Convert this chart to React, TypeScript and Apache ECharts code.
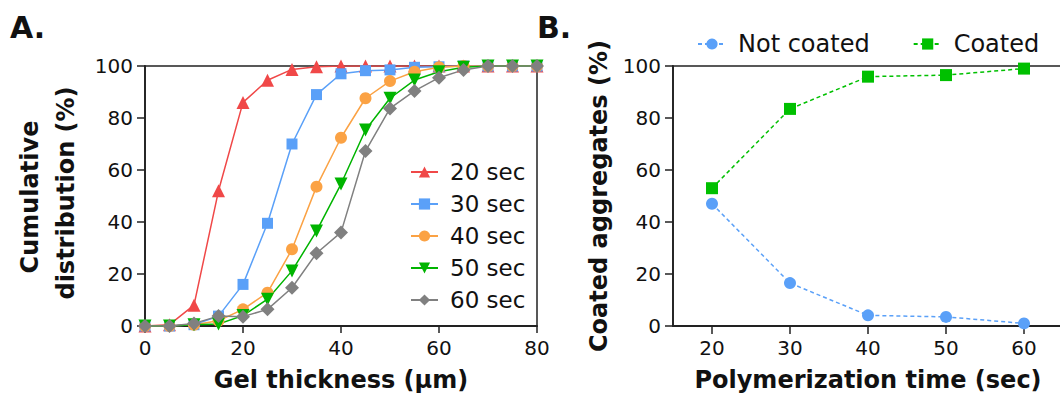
import React, { useEffect, useRef } from "react";
import * as echarts from "echarts";

const FONT = "DejaVu Sans";

// Panel A
const thickness = [0, 5, 10, 15, 20, 25, 30, 35, 40, 45, 50, 55, 60, 65, 70, 75, 80];
const sec20 = [0, 0.5, 8, 52, 86, 94.5, 98.7, 99.7, 100, 100, 100, 100, 100, 100, 100, 100, 100];
const sec30 = [0, 0, 0.5, 3.8, 16, 39.5, 70, 89, 97, 98.2, 98.5, 99.5, 99.7, 100, 100, 100, 100];
const sec40 = [0, 0, 0.5, 2, 6.4, 12.8, 29.5, 53.6, 72.4, 87.6, 94.2, 97.8, 99.5, 100, 100, 100, 100];
const sec50 = [0, 0, 0.5, 0.8, 4, 10.3, 21.2, 36.5, 54.6, 75.4, 87.6, 94.6, 97.8, 99.5, 100, 100, 100];
const sec60 = [0, 0, 1, 3.8, 3.6, 6.4, 14.7, 28, 36, 67.3, 83.7, 90.4, 95.5, 98.5, 100, 100, 100];
const seriesNamesA = ["20 sec", "30 sec", "40 sec", "50 sec", "60 sec"];

// Panel B
const times = [20, 30, 40, 50, 60];
const notCoated = [47, 16.5, 4.1, 3.5, 1.0];
const coated = [53, 83.5, 95.9, 96.5, 99];
const seriesNamesB = ["Not coated", "Coated"];

const pairs = (xs: number[], ys: number[]) => xs.map((x, i) => [x, ys[i]]);

export default function App() {
  const ref = useRef<HTMLDivElement>(null);
  useEffect(() => {
    const chart = echarts.init(ref.current!, null, { renderer: "svg" });
    const axisColor = "#222";
    const labelStyle = { fontFamily: FONT, fontSize: 20, color: "#111" };
    const nameStyle = { fontFamily: FONT, fontSize: 24, fontWeight: "bold" as const, color: "#111" };
    const colorsA = ["#f04848", "#5aa0f8", "#fba244", "#00b400", "#808080"];
    const symbolsA = ["triangle", "rect", "circle", "triangle", "diamond"];
    const sizesA = [13, 11, 12, 13, 14];
    const rotA = [0, 0, 0, 180, 0];
    const dataA = [sec20, sec30, sec40, sec50, sec60];

    const seriesA = dataA.map((d, i) => ({
      name: seriesNamesA[i],
      type: "line",
      xAxisIndex: 0,
      yAxisIndex: 0,
      data: pairs(thickness, d),
      symbol: symbolsA[i],
      symbolSize: sizesA[i],
      symbolRotate: rotA[i],
      showAllSymbol: true,
      lineStyle: { color: colorsA[i], width: 1.5 },
      itemStyle: { color: colorsA[i] },
      emphasis: { disabled: true },
    }));

    const seriesB = [
      {
        name: seriesNamesB[0],
        type: "line",
        xAxisIndex: 1,
        yAxisIndex: 1,
        data: pairs(times, notCoated),
        symbol: "circle",
        symbolSize: 12,
        lineStyle: { color: "#5aa0f8", width: 1.5, type: [4, 3] },
        itemStyle: { color: "#5aa0f8" },
      },
      {
        name: seriesNamesB[1],
        type: "line",
        xAxisIndex: 1,
        yAxisIndex: 1,
        data: pairs(times, coated),
        symbol: "rect",
        symbolSize: 12,
        lineStyle: { color: "#00c000", width: 1.5, type: [4, 3] },
        itemStyle: { color: "#00c000" },
      },
    ];

    const yAxisBase = {
      type: "value",
      min: 0,
      max: 100,
      interval: 20,
      axisLine: { show: true, lineStyle: { color: axisColor, width: 1.8 } },
      axisTick: { show: true, length: 8, lineStyle: { color: axisColor, width: 1.5 } },
      axisLabel: { ...labelStyle, margin: 12 },
      splitLine: { show: false },
    };

    chart.setOption({
      animation: false,
      backgroundColor: "#fff",
      grid: [
        { left: 145, top: 66, width: 392, height: 260, outerBoundsMode: "none", show: true, borderColor: axisColor, borderWidth: 1.5, backgroundColor: "transparent" },
        { left: 673, top: 66, width: 390, height: 260, outerBoundsMode: "none", show: true, borderColor: axisColor, borderWidth: 1.5, backgroundColor: "transparent" },
      ],
      xAxis: [
        {
          type: "value",
          gridIndex: 0,
          min: 0,
          max: 80,
          interval: 20,
          axisLine: { show: true, onZero: false, lineStyle: { color: axisColor, width: 1.8 } },
          axisTick: { show: true, length: 7, lineStyle: { color: axisColor, width: 1.5 } },
          axisLabel: { ...labelStyle, margin: 12 },
          splitLine: { show: false },
          name: "Gel thickness (μm)",
          nameLocation: "middle",
          nameGap: 42,
          nameTextStyle: nameStyle,
        },
        {
          type: "value",
          gridIndex: 1,
          min: 15,
          max: 65,
          axisLine: { show: true, onZero: false, lineStyle: { color: axisColor, width: 1.8 } },
          axisTick: { show: true, length: 8, customValues: times, lineStyle: { color: axisColor, width: 1.5 } },
          axisLabel: { ...labelStyle, margin: 12, customValues: times },
          splitLine: { show: false },
          name: "Polymerization time (sec)",
          nameLocation: "middle",
          nameGap: 42,
          nameTextStyle: nameStyle,
        },
      ],
      yAxis: [
        { ...yAxisBase, gridIndex: 0 },
        {
          ...yAxisBase,
          gridIndex: 1,
          name: "Coated aggregates (%)",
          nameLocation: "middle",
          nameGap: 62,
          nameTextStyle: nameStyle,
        },
      ],
      legend: [
        {
          data: seriesNamesA,
          orient: "vertical",
          left: 405,
          top: 155,
          itemWidth: 27,
          itemHeight: 14,
          itemGap: 8,
          textStyle: { fontFamily: FONT, fontSize: 23, color: "#111", padding: [0, 0, 0, 7], lineHeight: 24 },
        },
        {
          data: seriesNamesB,
          orient: "horizontal",
          left: 692,
          top: 27,
          itemWidth: 28,
          itemHeight: 14,
          itemGap: 43,
          textStyle: { fontFamily: FONT, fontSize: 24, color: "#111", padding: [0, 0, 0, 7] },
        },
      ],
      graphic: [
        { type: "text", left: 10, top: 12, style: { text: "A.", font: `bold 30px "${FONT}"`, fill: "#111" } },
        { type: "text", left: 537, top: 12, style: { text: "B.", font: `bold 30px "${FONT}"`, fill: "#111" } },
        {
          type: "text",
          x: 30,
          y: 197,
          rotation: Math.PI / 2,
          style: { text: "Cumulative", font: `bold 24px "${FONT}"`, fill: "#111", align: "center", verticalAlign: "middle" },
        },
        {
          type: "text",
          x: 66,
          y: 193,
          rotation: Math.PI / 2,
          style: { text: "distribution (%)", font: `bold 24px "${FONT}"`, fill: "#111", align: "center", verticalAlign: "middle" },
        },
      ],
      series: [...seriesA, ...seriesB],
    });
    return () => chart.dispose();
  }, []);
  return (
    <div
      ref={ref}
      style={{ position: "fixed", left: 0, top: 0, width: 1060, height: 404, background: "#fff" }}
    />
  );
}
